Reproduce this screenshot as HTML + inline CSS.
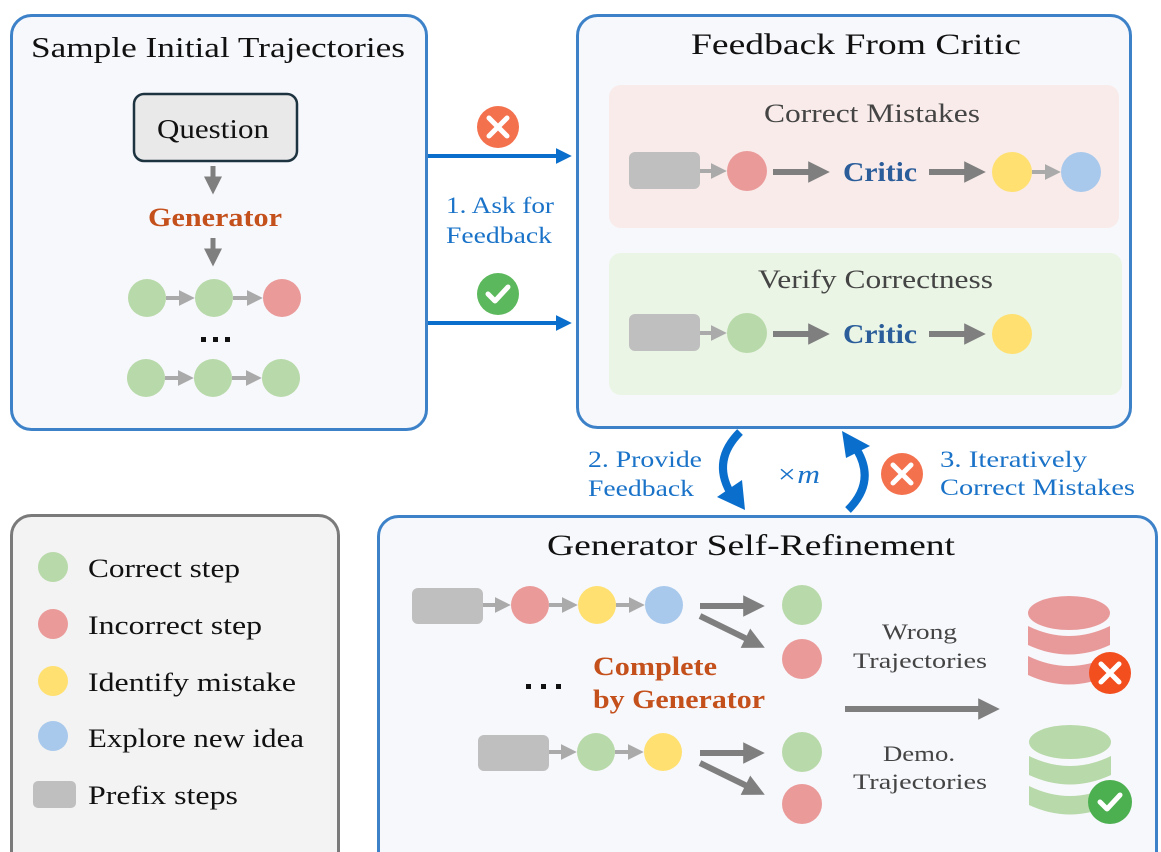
<!DOCTYPE html>
<html><head><meta charset="utf-8"><style>
html,body{margin:0;padding:0;background:#fff}
svg{display:block}
text{font-family:"Liberation Serif",serif}
</style></head><body>
<svg width="1161" height="852" viewBox="0 0 1161 852" xmlns="http://www.w3.org/2000/svg">
<defs>
<marker id="sa" markerWidth="4" markerHeight="4" refX="0.3" refY="2" orient="auto" markerUnits="strokeWidth"><path d="M0,0 L4,2 L0,4 z" fill="#aaaaaa"/></marker>
<marker id="ba" markerWidth="3.6" markerHeight="3.6" refX="0.3" refY="1.8" orient="auto" markerUnits="strokeWidth"><path d="M0,0 L3.6,1.8 L0,3.6 z" fill="#7f7f7f"/></marker>
<marker id="bl" markerWidth="4" markerHeight="4" refX="0.3" refY="2" orient="auto" markerUnits="strokeWidth"><path d="M0,0 L4,2 L0,4 z" fill="#0a6fcc"/></marker>
</defs>

<!-- Box 1 -->
<rect x="11.5" y="15.5" width="415" height="414" rx="20" fill="#f7f8fc" stroke="#3d82c8" stroke-width="3"/>
<text x="31" y="57" font-size="28" textLength="374" lengthAdjust="spacingAndGlyphs" fill="#111">Sample Initial Trajectories</text>
<rect x="134" y="94" width="163" height="67" rx="10" fill="#e9e9e9" stroke="#1e3340" stroke-width="2.5"/>
<text x="157" y="138" font-size="27" textLength="112" lengthAdjust="spacingAndGlyphs" fill="#111">Question</text>
<line x1="213" y1="166" x2="213" y2="178" stroke="#7f7f7f" stroke-width="5" marker-end="url(#ba)"/>
<text x="148" y="226" font-size="26" font-weight="bold" textLength="134" lengthAdjust="spacingAndGlyphs" fill="#c4501c">Generator</text>
<line x1="213" y1="238" x2="213" y2="250" stroke="#7f7f7f" stroke-width="5" marker-end="url(#ba)"/>
<g stroke="#aaaaaa" stroke-width="4" fill="none">
<line x1="166" y1="298" x2="180" y2="298" marker-end="url(#sa)"/>
<line x1="233" y1="298" x2="248" y2="298" marker-end="url(#sa)"/>
<line x1="165" y1="378" x2="179" y2="378" marker-end="url(#sa)"/>
<line x1="232" y1="378" x2="247" y2="378" marker-end="url(#sa)"/>
</g>
<circle cx="147" cy="298" r="19" fill="#b8d9a9"/>
<circle cx="214" cy="298" r="19" fill="#b8d9a9"/>
<circle cx="282" cy="298" r="19" fill="#ea9a99"/>
<g fill="#111"><rect x="201" y="337" width="5" height="5"/><rect x="213" y="337" width="5" height="5"/><rect x="225" y="337" width="5" height="5"/></g>
<circle cx="146" cy="378" r="19" fill="#b8d9a9"/>
<circle cx="213" cy="378" r="19" fill="#b8d9a9"/>
<circle cx="281" cy="378" r="19" fill="#b8d9a9"/>

<!-- connectors 1 -->
<line x1="428" y1="156" x2="557" y2="156" stroke="#0a6fcc" stroke-width="4" marker-end="url(#bl)"/>
<line x1="428" y1="323" x2="557" y2="323" stroke="#0a6fcc" stroke-width="4" marker-end="url(#bl)"/>
<circle cx="498" cy="127" r="21" fill="#f4714e"/>
<path d="M489,118 L507,136 M507,118 L489,136" stroke="#fff" stroke-width="5" stroke-linecap="round"/>
<circle cx="498" cy="294" r="21" fill="#5cb85c"/>
<path d="M488,294 L495,301 L508,287" stroke="#fff" stroke-width="5" fill="none" stroke-linecap="round" stroke-linejoin="round"/>
<text x="446" y="213" font-size="23" textLength="108" lengthAdjust="spacingAndGlyphs" fill="#1a73c8">1. Ask for</text>
<text x="446" y="243" font-size="23" textLength="106" lengthAdjust="spacingAndGlyphs" fill="#1a73c8">Feedback</text>

<!-- Box 2 -->
<rect x="577.5" y="15.5" width="553" height="412" rx="20" fill="#f7f8fc" stroke="#3d82c8" stroke-width="3"/>
<text x="691" y="54" font-size="30" textLength="330" lengthAdjust="spacingAndGlyphs" fill="#111">Feedback From Critic</text>
<rect x="609" y="85" width="510" height="143" rx="12" fill="#f9ebea"/>
<text x="764" y="122" font-size="26" textLength="216" lengthAdjust="spacingAndGlyphs" fill="#444">Correct Mistakes</text>
<rect x="629" y="152" width="71" height="37" rx="6" fill="#bfbfbf"/>
<line x1="700" y1="171" x2="712" y2="171" stroke="#aaaaaa" stroke-width="4" marker-end="url(#sa)"/>
<circle cx="747" cy="171" r="20" fill="#ea9a99"/>
<line x1="773" y1="172" x2="810" y2="172" stroke="#7f7f7f" stroke-width="6" marker-end="url(#ba)"/>
<text x="843" y="181" font-size="27" font-weight="bold" textLength="74" lengthAdjust="spacingAndGlyphs" fill="#2a5d9a">Critic</text>
<line x1="929" y1="172" x2="966" y2="172" stroke="#7f7f7f" stroke-width="6" marker-end="url(#ba)"/>
<circle cx="1012" cy="172" r="20" fill="#ffe070"/>
<line x1="1032" y1="172" x2="1046" y2="172" stroke="#aaaaaa" stroke-width="4" marker-end="url(#sa)"/>
<circle cx="1081" cy="172" r="20" fill="#a8c9ec"/>

<rect x="609" y="253" width="513" height="142" rx="12" fill="#eaf5e5"/>
<text x="758" y="288" font-size="26" textLength="235" lengthAdjust="spacingAndGlyphs" fill="#444">Verify Correctness</text>
<rect x="629" y="314" width="71" height="37" rx="6" fill="#bfbfbf"/>
<line x1="700" y1="333" x2="712" y2="333" stroke="#aaaaaa" stroke-width="4" marker-end="url(#sa)"/>
<circle cx="747" cy="333" r="20" fill="#b8d9a9"/>
<line x1="773" y1="334" x2="810" y2="334" stroke="#7f7f7f" stroke-width="6" marker-end="url(#ba)"/>
<text x="843" y="343" font-size="27" font-weight="bold" textLength="74" lengthAdjust="spacingAndGlyphs" fill="#2a5d9a">Critic</text>
<line x1="929" y1="334" x2="966" y2="334" stroke="#7f7f7f" stroke-width="6" marker-end="url(#ba)"/>
<circle cx="1012" cy="334" r="20" fill="#ffe070"/>

<!-- loop -->
<path d="M740,432 Q712,460 730,492" stroke="#0a6fcc" stroke-width="8" fill="none"/>
<path d="M717,497 L745,510 L742,480 z" fill="#0a6fcc"/>
<path d="M848,510 Q876,482 857,450" stroke="#0a6fcc" stroke-width="8" fill="none"/>
<path d="M842,431 L870,446 L846,458 z" fill="#0a6fcc"/>
<text x="776" y="483" font-size="26" textLength="44" lengthAdjust="spacingAndGlyphs" fill="#1a73c8" font-style="italic">×m</text>
<text x="588" y="467" font-size="23" textLength="114" lengthAdjust="spacingAndGlyphs" fill="#1a73c8">2. Provide</text>
<text x="588" y="496" font-size="23" textLength="106" lengthAdjust="spacingAndGlyphs" fill="#1a73c8">Feedback</text>
<circle cx="902" cy="474" r="21" fill="#f4714e"/>
<path d="M893,465 L911,483 M911,465 L893,483" stroke="#fff" stroke-width="5" stroke-linecap="round"/>
<text x="940" y="467" font-size="23" textLength="147" lengthAdjust="spacingAndGlyphs" fill="#1a73c8">3. Iteratively</text>
<text x="940" y="495" font-size="23" textLength="195" lengthAdjust="spacingAndGlyphs" fill="#1a73c8">Correct Mistakes</text>

<!-- Legend -->
<rect x="11.5" y="515.5" width="327" height="360" rx="20" fill="#f3f3f3" stroke="#7a7a7a" stroke-width="3"/>
<circle cx="53" cy="567" r="15" fill="#b8d9a9"/>
<text x="88" y="577" font-size="26" textLength="152" lengthAdjust="spacingAndGlyphs" fill="#111">Correct step</text>
<circle cx="53" cy="624" r="15" fill="#ea9a99"/>
<text x="88" y="634" font-size="26" textLength="174" lengthAdjust="spacingAndGlyphs" fill="#111">Incorrect step</text>
<circle cx="53" cy="681" r="15" fill="#ffe070"/>
<text x="88" y="691" font-size="26" textLength="208" lengthAdjust="spacingAndGlyphs" fill="#111">Identify mistake</text>
<circle cx="53" cy="736" r="15" fill="#a8c9ec"/>
<text x="88" y="747" font-size="26" textLength="216" lengthAdjust="spacingAndGlyphs" fill="#111">Explore new idea</text>
<rect x="33" y="781" width="43" height="27" rx="5" fill="#bfbfbf"/>
<text x="88" y="804" font-size="26" textLength="150" lengthAdjust="spacingAndGlyphs" fill="#111">Prefix steps</text>

<!-- Box 3 -->
<rect x="378.5" y="516.5" width="778" height="360" rx="20" fill="#f7f8fc" stroke="#3d82c8" stroke-width="3"/>
<text x="547" y="555" font-size="30" textLength="408" lengthAdjust="spacingAndGlyphs" fill="#111">Generator Self-Refinement</text>
<rect x="412" y="588" width="71" height="36" rx="6" fill="#bfbfbf"/>
<g stroke="#aaaaaa" stroke-width="4">
<line x1="483" y1="605" x2="496" y2="605" marker-end="url(#sa)"/>
<line x1="549" y1="605" x2="563" y2="605" marker-end="url(#sa)"/>
<line x1="616" y1="605" x2="630" y2="605" marker-end="url(#sa)"/>
<line x1="549" y1="752" x2="562" y2="752" marker-end="url(#sa)"/>
<line x1="615" y1="752" x2="629" y2="752" marker-end="url(#sa)"/>
</g>
<circle cx="530" cy="605" r="19" fill="#ea9a99"/>
<circle cx="597" cy="605" r="19" fill="#ffe070"/>
<circle cx="664" cy="605" r="19" fill="#a8c9ec"/>
<g stroke="#7f7f7f" stroke-width="6">
<line x1="700" y1="606" x2="745" y2="606" marker-end="url(#ba)"/>
<line x1="700" y1="616" x2="747" y2="639" marker-end="url(#ba)"/>
<line x1="700" y1="753" x2="745" y2="753" marker-end="url(#ba)"/>
<line x1="700" y1="763" x2="747" y2="786" marker-end="url(#ba)"/>
<line x1="845" y1="709" x2="980" y2="709" marker-end="url(#ba)"/>
</g>
<circle cx="802" cy="605" r="20" fill="#b8d9a9"/>
<circle cx="802" cy="659" r="20" fill="#ea9a99"/>
<g fill="#111"><rect x="526" y="684" width="5" height="5"/><rect x="541" y="684" width="5" height="5"/><rect x="556" y="684" width="5" height="5"/></g>
<text x="593" y="675" font-size="26" font-weight="bold" textLength="124" lengthAdjust="spacingAndGlyphs" fill="#c4501c">Complete</text>
<text x="593" y="708" font-size="26" font-weight="bold" textLength="172" lengthAdjust="spacingAndGlyphs" fill="#c4501c">by Generator</text>
<rect x="478" y="735" width="71" height="36" rx="6" fill="#bfbfbf"/>
<circle cx="596" cy="752" r="19" fill="#b8d9a9"/>
<circle cx="663" cy="752" r="19" fill="#ffe070"/>
<circle cx="802" cy="752" r="20" fill="#b8d9a9"/>
<circle cx="802" cy="804" r="20" fill="#ea9a99"/>
<text x="882" y="639" font-size="22" textLength="75" lengthAdjust="spacingAndGlyphs" fill="#444">Wrong</text>
<text x="853" y="668" font-size="22" textLength="134" lengthAdjust="spacingAndGlyphs" fill="#444">Trajectories</text>
<text x="883" y="761" font-size="22" textLength="72" lengthAdjust="spacingAndGlyphs" fill="#444">Demo.</text>
<text x="853" y="789" font-size="22" textLength="134" lengthAdjust="spacingAndGlyphs" fill="#444">Trajectories</text>

<!-- red DB -->
<g fill="#e89a9a">
<ellipse cx="1069" cy="613" rx="41" ry="17"/>
<path d="M1028,626 Q1069,646 1110,626 L1110,645 Q1069,664 1028,645 z"/>
<path d="M1028,656 Q1069,676 1110,656 L1110,675 Q1069,694 1028,675 z"/>
</g>
<circle cx="1110" cy="673" r="21" fill="#f24e1e"/>
<path d="M1101,664 L1119,682 M1119,664 L1101,682" stroke="#fff" stroke-width="5" stroke-linecap="round"/>
<!-- green DB -->
<g fill="#b8d9a9">
<ellipse cx="1070" cy="742" rx="41" ry="17"/>
<path d="M1029,756 Q1070,776 1111,756 L1111,775 Q1070,794 1029,775 z"/>
<path d="M1029,786 Q1070,806 1111,786 L1111,805 Q1070,824 1029,805 z"/>
</g>
<circle cx="1110" cy="802" r="22" fill="#4caf50"/>
<path d="M1100,802 L1107,809 L1120,795" stroke="#fff" stroke-width="5" fill="none" stroke-linecap="round" stroke-linejoin="round"/>
</svg>
</body></html>
